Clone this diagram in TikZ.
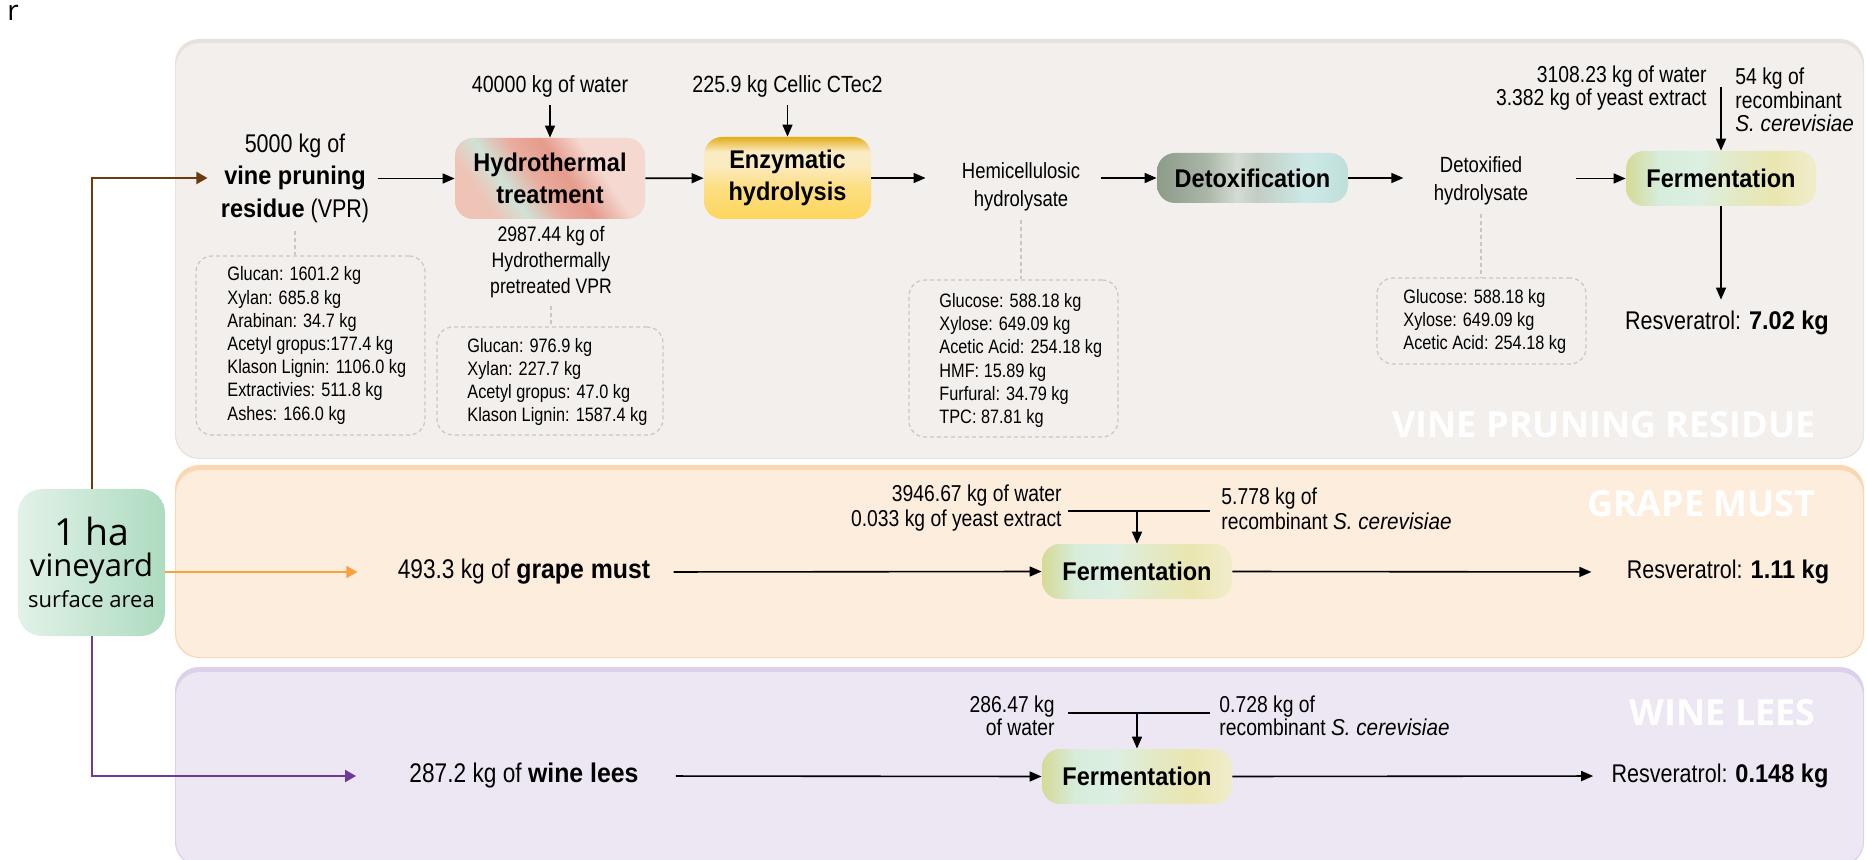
\documentclass[tikz,border=0pt]{standalone}
\usepackage{fontspec}
\setmainfont{Liberation Sans}[UprightFeatures={FakeStretch=0.84},BoldFeatures={FakeStretch=0.92},ItalicFeatures={FakeStretch=0.9}]
\newfontfamily\osans{Open Sans}
\usetikzlibrary{arrows.meta,calc}
\definecolor{vprbg}{HTML}{F2EFEC}
\definecolor{vprbd}{HTML}{E7E2DE}
\definecolor{gmbg}{HTML}{FDEDDD}
\definecolor{gmbd}{HTML}{FAD6B2}
\definecolor{wlbg}{HTML}{EDE7F3}
\definecolor{wlbd}{HTML}{DCD0EA}
\definecolor{brownln}{HTML}{6E3B0E}
\definecolor{orangeln}{HTML}{F7A040}
\definecolor{purpleln}{HTML}{6B3A9C}
\definecolor{dashgray}{HTML}{C9C7C5}
\definecolor{haL}{HTML}{E2F2E8}
\definecolor{haR}{HTML}{ADDBC0}
% hydrothermal
\definecolor{hA}{HTML}{EEC4B6}
\definecolor{hB}{HTML}{D0E2D6}
\definecolor{hC}{HTML}{E9AC9E}
\definecolor{hD}{HTML}{E59B8C}
\definecolor{hE}{HTML}{F5D9D1}
\pgfdeclarehorizontalshading{hydroshade}{100bp}{color(0bp)=(hA); color(27bp)=(hA); color(36bp)=(hB); color(46bp)=(hC); color(55bp)=(hD); color(66bp)=(hE); color(100bp)=(hE)}
% enzymatic
\definecolor{eTop}{HTML}{E2AE1C}
\definecolor{eL}{HTML}{FBEBC2}
\definecolor{eM}{HTML}{FDDF84}
\definecolor{eBot}{HTML}{FDD65C}
\pgfdeclareverticalshading{enzshade}{100bp}{color(0bp)=(eBot); color(25bp)=(eBot); color(45bp)=(eM); color(58bp)=(eL); color(66bp)=(eL); color(75bp)=(eTop); color(100bp)=(eTop)}
% detox
\definecolor{dA}{HTML}{8D9B89}
\definecolor{dB}{HTML}{AAB6A7}
\definecolor{dC}{HTML}{D4DCD3}
\definecolor{dD}{HTML}{C2CDC3}
\definecolor{dE}{HTML}{CCE9E8}
\definecolor{dF}{HTML}{BFDEDA}
\pgfdeclarehorizontalshading{detoxshade}{100bp}{color(0bp)=(dA); color(25bp)=(dA); color(38bp)=(dB); color(46bp)=(dC); color(51bp)=(dD); color(64bp)=(dE); color(75bp)=(dF); color(100bp)=(dF)}
% fermentation
\definecolor{fA}{HTML}{D5DA97}
\definecolor{fB}{HTML}{D7EDDB}
\definecolor{fC}{HTML}{DCEFE2}
\definecolor{fD}{HTML}{E3E9C6}
\definecolor{fE}{HTML}{EAE6B0}
\definecolor{fF}{HTML}{F0EDCC}
\pgfdeclarehorizontalshading{fermshade}{100bp}{color(0bp)=(fA); color(25bp)=(fA); color(34bp)=(fB); color(44bp)=(fC); color(54bp)=(fD); color(64bp)=(fE); color(75bp)=(fF); color(100bp)=(fF)}
\tikzset{
  arr/.style={line width=0.8pt, -{Triangle[length=6pt,width=5pt]}},
  plainln/.style={line width=0.8pt},
  carr/.style={line width=1pt, -{Triangle[length=5.5pt,width=6pt]}},
  dashln/.style={dashgray, line width=0.6pt, dash pattern=on 2pt off 1.5pt},
  dbox/.style={draw=dashgray, line width=0.6pt, dash pattern=on 2pt off 1.5pt, rounded corners=8pt, inner sep=0pt},
  proc/.style={shade, rounded corners=9pt, inner sep=0pt, align=center, font=\bfseries\fontsize{12.8}{15.8}\selectfont},
  mtxt/.style={inner sep=4pt, align=center, font=\fontsize{12.8}{16.25}\selectfont},
  stxt/.style={inner sep=4pt, align=center, font=\fontsize{11}{14}\selectfont},
  intxt/.style={inner sep=0pt, font=\fontsize{11.5}{11.7}\selectfont},
  ctxt/.style={inner sep=0pt, align=left, anchor=west, font=\fontsize{9.7}{11.6}\selectfont},
  restxt/.style={inner sep=0pt, font=\fontsize{12.8}{15}\selectfont},
  rowtxt/.style={inner sep=4pt, font=\fontsize{13.5}{16}\selectfont},
  wtitle/.style={inner sep=0pt, anchor=east, text=white, font=\osans\bfseries\fontsize{18}{20}\selectfont},
}
\begin{document}
\begin{tikzpicture}[x=0.5pt,y=-0.5pt]
\useasboundingbox (0,0) rectangle (1867,860);
\clip (0,0) rectangle (1867,860);
% panels
\fill[vprbd, rounded corners=12pt] (175,39) rectangle (1864,459);
\fill[vprbg, rounded corners=12pt] (176,43) rectangle (1863,458);
\fill[gmbd, rounded corners=12pt] (175,465) rectangle (1864,658);
\fill[gmbg, rounded corners=12pt] (176,470) rectangle (1863,657);
\fill[wlbd, rounded corners=12pt] (175,667) rectangle (1864,866);
\fill[wlbg, rounded corners=12pt] (176,672) rectangle (1863,865);

\node[wtitle] (t1) at (1816,425) {VINE PRUNING RESIDUE};
\node[wtitle] (t2) at (1816,504) {GRAPE MUST};
\node[wtitle] (t3) at (1816,713) {WINE LEES};

\node[inner sep=0pt, font=\osans\fontsize{14}{14}\selectfont] (rr) at (13,13) {r};

% source box
\node[rounded corners=12pt, left color=haL, right color=haR, minimum width=73.5pt, minimum height=73.5pt, inner sep=0pt, align=center, font=\osans\fontsize{15.5}{15.5}\selectfont] (ha) at (91.5,562.5)
  {{\fontsize{18.7}{15.5}\selectfont 1 ha}\\vineyard\\{\fontsize{11}{15.5}\selectfont surface area}};

% ---------- VPR row ----------
\node[mtxt] (vpr) at (295,178) {5000 kg of\\\textbf{vine pruning}\\\textbf{residue} (VPR)};
\node[proc, shading=hydroshade, shading angle=35, minimum width=95pt, minimum height=40.5pt] (hydro) at (550,178.5) {Hydrothermal\\treatment};
\node[proc, shading=enzshade, minimum width=83.5pt, minimum height=41pt] (enz) at (787.5,178) {Enzymatic\\hydrolysis};
\node[stxt] (hemi) at (1021,187) {Hemicellulosic\\hydrolysate};
\node[proc, shading=detoxshade, minimum width=95.5pt, minimum height=25pt] (detox) at (1252.5,178) {Detoxification};
\node[stxt] (dtx) at (1481,181) {Detoxified\\hydrolysate};
\node[proc, shading=fermshade, minimum width=95pt, minimum height=27.5pt] (ferm1) at (1721,178.5) {Fermentation};

\node[mtxt, font=\fontsize{11.7}{14}\selectfont] (water1) at (550,86) {40000 kg of water};
\node[mtxt, font=\fontsize{11.7}{14}\selectfont] (cellic) at (787.5,86) {225.9 kg Cellic CTec2};
\node[intxt, align=right, anchor=east] (fw1) at (1707,88) {3108.23 kg of water\\3.382 kg of yeast extract};
\node[intxt, align=left, anchor=west] (fr1) at (1735,100) {54 kg of\\recombinant\\\textit{S. cerevisiae}};
\coordinate (c1) at (1721,87);
\node[restxt] (res1) at (1727,323) {Resveratrol: \textbf{7.02 kg}};

\node[mtxt, font=\fontsize{10.5}{12.9}\selectfont] (hp) at (551,262) {2987.44 kg of\\Hydrothermally\\pretreated VPR};

% composition boxes
\node[dbox, minimum width=114.5pt, minimum height=89.5pt] (b1) at (310.5,345.5) {};
\node[ctxt] (t1c) at (227,345.5) {Glucan: 1601.2 kg\\Xylan: 685.8 kg\\Arabinan: 34.7 kg\\Acetyl gropus:177.4 kg\\Klason Lignin: 1106.0 kg\\Extractivies: 511.8 kg\\Ashes: 166.0 kg};
\node[dbox, minimum width=113pt, minimum height=54pt] (b2) at (550,381) {};
\node[ctxt] (t2c) at (467,382) {Glucan: 976.9 kg\\Xylan: 227.7 kg\\Acetyl gropus: 47.0 kg\\Klason Lignin: 1587.4 kg};
\node[dbox, minimum width=104.5pt, minimum height=78.5pt] (b3) at (1013.5,358.5) {};
\node[ctxt] (t3c) at (939,360.5) {Glucose: 588.18 kg\\Xylose: 649.09 kg\\Acetic Acid: 254.18 kg\\HMF: 15.89 kg\\Furfural: 34.79 kg\\TPC: 87.81 kg};
\node[dbox, minimum width=104.5pt, minimum height=43pt] (b4) at (1481.5,321) {};
\node[ctxt] (t4c) at (1403,321.5) {Glucose: 588.18 kg\\Xylose: 649.09 kg\\Acetic Acid: 254.18 kg};

\draw[dashln] (vpr.south) -- (vpr.south |- b1.north);
\draw[dashln] (hp.south) -- (hp.south |- b2.north);
\draw[dashln] (hemi.south) -- (hemi.south |- b3.north);
\draw[dashln] (dtx.south) -- (dtx.south |- b4.north);

\draw[arr] (vpr.east |- hydro.west) -- (hydro.west);
\draw[arr] (water1) -- (hydro);
\draw[arr] (hydro) -- (enz);
\draw[arr] (cellic) -- (enz);
\draw[arr, shorten >=14pt] (enz.east) -- (enz.east -| hemi.west);
\draw[arr, shorten <=6.5pt] (hemi.east |- detox.west) -- (detox.west);
\draw[arr, shorten >=11pt] (detox.east) -- (detox.east -| dtx.west);
\draw[arr, shorten <=19.5pt] (dtx.east |- ferm1.west) -- (ferm1.west);
\draw[arr] (c1) -- (ferm1);
\draw[arr, shorten >=5.5pt] (ferm1) -- (ferm1 |- res1.north);

% ---------- grape must row ----------
\node[rowtxt] (gm) at (524,572) {493.3 kg of \textbf{grape must}};
\node[proc, shading=fermshade, minimum width=95pt, minimum height=27.5pt] (ferm2) at (1137,571.5) {Fermentation};
\node[intxt, align=right, anchor=east, font=\fontsize{11.5}{12.5}\selectfont] (fw2) at (1062,508.5) {3946.67 kg of water\\0.033 kg of yeast extract};
\node[intxt, align=left, anchor=west, font=\fontsize{11.5}{12.5}\selectfont] (fr2) at (1221,508.5) {5.778 kg of\\recombinant \textit{S. cerevisiae}};
\coordinate (g2a) at (1068,511);
\coordinate (g2b) at (1210,511);
\node[restxt] (res2) at (1728,572) {Resveratrol: \textbf{1.11 kg}};
\draw[plainln] (g2a) -- (g2b);
\draw[arr] (ferm2.north |- g2a) -- (ferm2);
\draw[arr, shorten <=7.5pt] (gm.east) -- (ferm2.west);
\draw[arr, shorten >=17.5pt] (ferm2.east) -- (res2.west);

% ---------- wine lees row ----------
\node[rowtxt] (wl) at (524,776) {287.2 kg of \textbf{wine lees}};
\node[proc, shading=fermshade, minimum width=95pt, minimum height=27.5pt] (ferm3) at (1137,776.5) {Fermentation};
\node[intxt, align=right, anchor=east] (fw3) at (1055,715.5) {286.47 kg\\of water};
\node[intxt, align=left, anchor=west] (fr3) at (1219,715.5) {0.728 kg of\\recombinant \textit{S. cerevisiae}};
\coordinate (w2a) at (1068,713);
\coordinate (w2b) at (1210,713);
\node[restxt] (res3) at (1720,776) {Resveratrol: \textbf{0.148 kg}};
\draw[plainln] (w2a) -- (w2b);
\draw[arr] (ferm3.north |- w2a) -- (ferm3);
\draw[arr, shorten <=14.5pt] (wl.east) -- (ferm3.west);
\draw[arr, shorten >=9pt] (ferm3.east) -- (res3.west);

% ---------- source connectors ----------
\draw[carr, brownln, shorten >=2.5pt] (ha.north) |- (vpr.west);
\draw[carr, orangeln, shorten >=16pt] (ha.east |- gm.west) -- (gm.west);
\draw[carr, purpleln, shorten >=22.5pt] (ha.south) |- (wl.west);
\end{tikzpicture}
\end{document}
